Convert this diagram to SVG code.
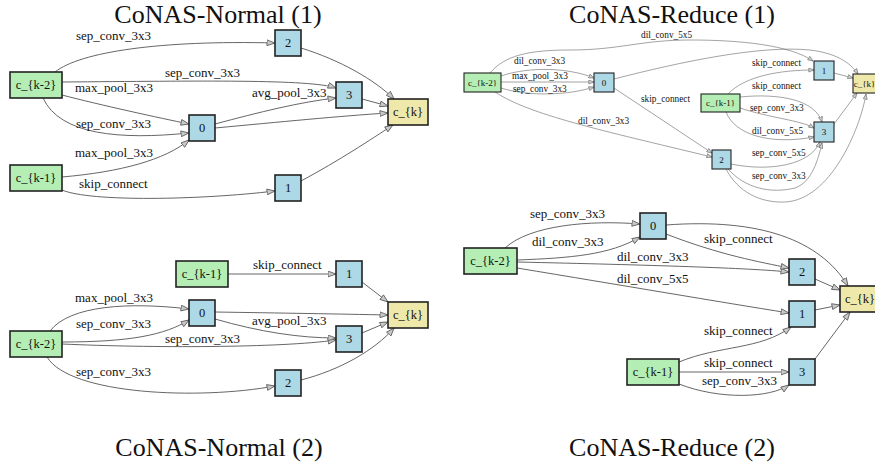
<svg xmlns="http://www.w3.org/2000/svg" width="875" height="465" viewBox="0 0 875 465">
<style>
.bg{fill:#ffffff}
.title{font-family:"Liberation Serif","Times New Roman",serif;font-size:26px;fill:#111;text-anchor:middle}
.in rect{fill:#b4eeb4;stroke:#222;stroke-width:1.6}
.mid rect{fill:#add8e6;stroke:#222;stroke-width:1.6}
.out rect{fill:#eee8aa;stroke:#222;stroke-width:1.6}
.nt{font-family:"Liberation Serif","Times New Roman",serif;font-size:12.5px;fill:#111;text-anchor:middle;dominant-baseline:central}
.ns{font-family:"Liberation Serif","Times New Roman",serif;font-size:9px;fill:#111;text-anchor:middle;dominant-baseline:central}
.sm rect{stroke-width:1.1}
.e path{fill:none;stroke:#555;stroke-width:0.9;marker-end:url(#ab)}
.es path{fill:none;stroke:#666;stroke-width:0.6;marker-end:url(#as)}
.lb{font-family:"Liberation Serif","Times New Roman",serif;font-size:13px;fill:#111}
.ls{font-family:"Liberation Serif","Times New Roman",serif;font-size:9.3px;fill:#111}
</style>
<defs>
<marker id="ab" markerWidth="9" markerHeight="7" refX="8.5" refY="3.5" orient="auto" markerUnits="userSpaceOnUse" viewBox="0 0 9 7"><path d="M0.5,0.6 L8.5,3.5 L0.5,6.4 Z" fill="#c8c8c8" stroke="#555" stroke-width="0.8"/></marker>
<marker id="as" markerWidth="6" markerHeight="5" refX="5.6" refY="2.5" orient="auto" markerUnits="userSpaceOnUse" viewBox="0 0 6 5"><path d="M0.4,0.5 L5.6,2.5 L0.4,4.5 Z" fill="#d0d0d0" stroke="#666" stroke-width="0.6"/></marker>
</defs>
<rect class="bg" x="0" y="0" width="875" height="465"/>

<text class="title" x="218" y="23">CoNAS-Normal (1)</text>
<text class="title" x="672" y="23">CoNAS-Reduce (1)</text>
<text class="title" x="219" y="456">CoNAS-Normal (2)</text>
<text class="title" x="672" y="456">CoNAS-Reduce (2)</text>

<!-- connectors -->
<g id="connectors">
 <g id="edges-normal1" class="e">
  <path d="M55,72 C80,52 160,40 275,43"/>
  <path d="M62,82 C200,81 310,79 336,88"/>
  <path d="M62,95 C100,105 160,118 189,124"/>
  <path d="M43,98 C60,135 120,140 189,133"/>
  <path d="M62,177 C120,172 165,160 189,140"/>
  <path d="M62,190 C90,202 200,200 275,191"/>
  <path d="M215,124 C260,112 300,102 336,98"/>
  <path d="M215,128 C280,122 340,116 388,113"/>
  <path d="M301,48 C340,60 375,80 394,99"/>
  <path d="M362,99 L388,106"/>
  <path d="M301,181 C340,160 370,140 393,125"/>
  <text class="lb" x="76" y="40">sep_conv_3x3</text>
  <text class="lb" x="165" y="77">sep_conv_3x3</text>
  <text class="lb" x="75" y="92">max_pool_3x3</text>
  <text class="lb" x="76" y="128">sep_conv_3x3</text>
  <text class="lb" x="75" y="157">max_pool_3x3</text>
  <text class="lb" x="79" y="188">skip_connect</text>
  <text class="lb" x="252" y="97">avg_pool_3x3</text>
 </g>
 <g id="edges-normal2" class="e">
  <path d="M228,274 L336,274"/>
  <path d="M50,331 C70,305 130,302 189,309"/>
  <path d="M62,342 C130,342 165,335 189,320"/>
  <path d="M62,344 C150,348 280,348 336,340"/>
  <path d="M47,357 C70,395 200,400 275,386"/>
  <path d="M215,312 C280,313 340,314 388,315"/>
  <path d="M215,319 C260,332 300,338 336,338"/>
  <path d="M362,282 L388,302"/>
  <path d="M362,333 L388,322"/>
  <path d="M301,380 C340,370 375,350 394,328"/>
  <text class="lb" x="253" y="269">skip_connect</text>
  <text class="lb" x="75" y="302">max_pool_3x3</text>
  <text class="lb" x="76" y="328">sep_conv_3x3</text>
  <text class="lb" x="165" y="343">sep_conv_3x3</text>
  <text class="lb" x="76" y="376">sep_conv_3x3</text>
  <text class="lb" x="252" y="325">avg_pool_3x3</text>
 </g>
 <g id="edges-reduce1" class="es">
  <path d="M490,73 C505,55 530,50 570,50 C620,50 640,40 690,40 C740,40 790,45 813,61"/>
  <path d="M614,79 C680,62 760,45 810,50 C835,53 850,62 858,74"/>
  <path d="M501,76 C530,66 570,68 594,78"/>
  <path d="M501,82 L594,82"/>
  <path d="M501,88 C530,97 570,95 594,87"/>
  <path d="M495,92 C530,115 600,130 712,157"/>
  <path d="M614,88 L712,153"/>
  <path d="M834,73 L853,78"/>
  <path d="M728,94 C745,76 780,70 814,70"/>
  <path d="M740,97 C780,93 815,100 822,122"/>
  <path d="M740,108 C770,118 800,120 814,128"/>
  <path d="M726,112 C735,135 770,145 814,137"/>
  <path d="M731,164 C770,172 810,165 820,142"/>
  <path d="M728,169 C745,188 770,194 795,188 C812,182 818,160 822,143"/>
  <path d="M726,169 C738,192 760,203 785,202 C830,200 860,130 866,94"/>
  <path d="M834,124 L857,93"/>
  <text class="ls" x="641" y="38">dil_conv_5x5</text>
  <text class="ls" x="514" y="64">dil_conv_3x3</text>
  <text class="ls" x="512" y="79">max_pool_3x3</text>
  <text class="ls" x="513" y="92">sep_conv_3x3</text>
  <text class="ls" x="578" y="124">dil_conv_3x3</text>
  <text class="ls" x="641" y="102">skip_connect</text>
  <text class="ls" x="752" y="66">skip_connect</text>
  <text class="ls" x="752" y="89">skip_connect</text>
  <text class="ls" x="750" y="111">sep_conv_3x3</text>
  <text class="ls" x="752" y="134">dil_conv_5x5</text>
  <text class="ls" x="752" y="156">sep_conv_5x5</text>
  <text class="ls" x="752" y="179">sep_conv_3x3</text>
 </g>
 <g id="edges-reduce2" class="e">
  <path d="M505,248 C530,225 590,220 640,224"/>
  <path d="M517,260 C570,258 610,255 640,237"/>
  <path d="M517,262 C650,265 750,268 789,272"/>
  <path d="M517,268 C620,285 720,302 789,313"/>
  <path d="M666,234 C720,255 760,262 789,268"/>
  <path d="M666,225 C760,218 820,240 848,286"/>
  <path d="M815,279 L840,290"/>
  <path d="M815,310 L840,305"/>
  <path d="M679,362 C720,345 760,350 791,327"/>
  <path d="M679,372 L789,372"/>
  <path d="M679,384 C720,400 770,398 789,385"/>
  <path d="M815,359 L850,312"/>
  <text class="lb" x="530" y="218">sep_conv_3x3</text>
  <text class="lb" x="532" y="246">dil_conv_3x3</text>
  <text class="lb" x="617" y="261">dil_conv_3x3</text>
  <text class="lb" x="617" y="283">dil_conv_5x5</text>
  <text class="lb" x="704" y="243">skip_connect</text>
  <text class="lb" x="704" y="335">skip_connect</text>
  <text class="lb" x="704" y="367">skip_connect</text>
  <text class="lb" x="702" y="385">sep_conv_3x3</text>
 </g>
</g>

<!-- Normal (1) nodes -->
<g id="n1_km2" class="in"><rect x="10" y="72" width="52" height="26"/><text class="nt" x="36" y="85">c_{k-2}</text></g>
<g id="n1_km1" class="in"><rect x="10" y="165" width="52" height="26"/><text class="nt" x="36" y="178">c_{k-1}</text></g>
<g id="n1_0" class="mid"><rect x="189" y="115" width="26" height="26"/><text class="nt" x="202" y="128">0</text></g>
<g id="n1_1" class="mid"><rect x="275" y="175" width="26" height="26"/><text class="nt" x="288" y="188">1</text></g>
<g id="n1_2" class="mid"><rect x="275" y="30" width="26" height="26"/><text class="nt" x="288" y="43">2</text></g>
<g id="n1_3" class="mid"><rect x="336" y="82" width="26" height="26"/><text class="nt" x="349" y="95">3</text></g>
<g id="n1_k" class="out"><rect x="388" y="99" width="40" height="26"/><text class="nt" x="408" y="112">c_{k}</text></g>

<!-- Normal (2) nodes -->
<g id="n2_km1" class="in"><rect x="176" y="261" width="52" height="26"/><text class="nt" x="202" y="274">c_{k-1}</text></g>
<g id="n2_km2" class="in"><rect x="10" y="331" width="52" height="26"/><text class="nt" x="36" y="344">c_{k-2}</text></g>
<g id="n2_0" class="mid"><rect x="189" y="300" width="26" height="26"/><text class="nt" x="202" y="313">0</text></g>
<g id="n2_1" class="mid"><rect x="336" y="261" width="26" height="26"/><text class="nt" x="349" y="274">1</text></g>
<g id="n2_2" class="mid"><rect x="275" y="370" width="26" height="26"/><text class="nt" x="288" y="383">2</text></g>
<g id="n2_3" class="mid"><rect x="336" y="326" width="26" height="26"/><text class="nt" x="349" y="339">3</text></g>
<g id="n2_k" class="out"><rect x="388" y="302" width="40" height="26"/><text class="nt" x="408" y="315">c_{k}</text></g>

<!-- Reduce (1) nodes -->
<g id="r1_km2" class="in sm"><rect x="464" y="73" width="37" height="19"/><text class="ns" x="482.5" y="82.5">c_{k-2}</text></g>
<g id="r1_km1" class="in sm"><rect x="701" y="94" width="39" height="18"/><text class="ns" x="720.5" y="103">c_{k-1}</text></g>
<g id="r1_0" class="mid sm"><rect x="594" y="73" width="20" height="19"/><text class="ns" x="604" y="82.5">0</text></g>
<g id="r1_1" class="mid sm"><rect x="814" y="61" width="20" height="19"/><text class="ns" x="824" y="70.5">1</text></g>
<g id="r1_2" class="mid sm"><rect x="712" y="150" width="19" height="19"/><text class="ns" x="721.5" y="159.5">2</text></g>
<g id="r1_3" class="mid sm"><rect x="814" y="122" width="20" height="20"/><text class="ns" x="824" y="132">3</text></g>
<g id="r1_k" class="out sm"><rect x="853" y="74" width="30" height="19"/><text class="ns" x="864.5" y="83.5">c_{k}</text></g>

<!-- Reduce (2) nodes -->
<g id="r2_km2" class="in"><rect x="464" y="248" width="53" height="26"/><text class="nt" x="490.5" y="261">c_{k-2}</text></g>
<g id="r2_km1" class="in"><rect x="627" y="359" width="52" height="26"/><text class="nt" x="653" y="372">c_{k-1}</text></g>
<g id="r2_0" class="mid"><rect x="640" y="213" width="26" height="26"/><text class="nt" x="653" y="226">0</text></g>
<g id="r2_1" class="mid"><rect x="789" y="301" width="26" height="26"/><text class="nt" x="802" y="314">1</text></g>
<g id="r2_2" class="mid"><rect x="789" y="259" width="26" height="26"/><text class="nt" x="802" y="272">2</text></g>
<g id="r2_3" class="mid"><rect x="789" y="359" width="26" height="26"/><text class="nt" x="802" y="372">3</text></g>
<g id="r2_k" class="out"><rect x="840" y="286" width="40" height="26"/><text class="nt" x="860" y="299">c_{k}</text></g>
</svg>
